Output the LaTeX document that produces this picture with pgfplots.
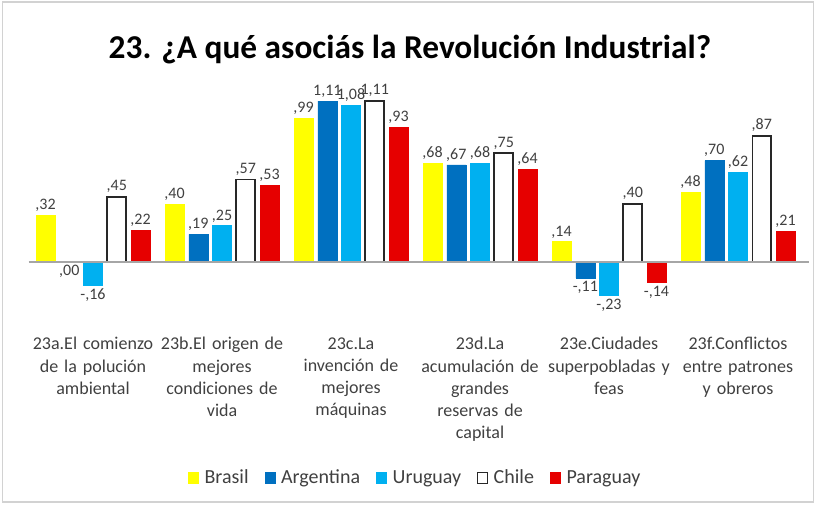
\documentclass[border=0pt]{standalone}
\usepackage{pgfplots}
\pgfplotsset{compat=1.18}
\usepackage{fontspec}
\setmainfont{Carlito}
\definecolor{cBra}{RGB}{255,255,0}
\definecolor{cArg}{RGB}{0,112,192}
\definecolor{cUru}{RGB}{0,176,240}
\definecolor{cChi}{RGB}{40,40,40}
\definecolor{cPar}{RGB}{230,0,0}
\definecolor{lab}{RGB}{64,64,64}
\begin{document}
\begin{tikzpicture}
\path[use as bounding box] (-21.4pt,-138pt) rectangle ++(612pt,378pt);
\draw[gray!35, line width=0.8pt] (-19.5pt,-136.5pt) rectangle ++(608.5pt,375pt);
\begin{axis}[
  scale only axis, width=580.5pt, height=174pt,
  xmin=-0.5, xmax=5.5, ymin=-0.4, ymax=1.2,
  axis line style={draw=none}, major tick length=0pt,
  ytick=\empty, xtick={0,1,2,3,4,5},
  xticklabels={{23a.El comienzo\\de la polución\\ambiental},
               {23b.El origen de\\mejores\\condiciones de\\vida},
               {23c.La\\invención de\\mejores\\máquinas},
               {23d.La\\acumulación de\\grandes\\reservas de\\capital},
               {23e.Ciudades\\superpobladas y\\feas},
               {23f.Conflictos\\entre patrones\\y obreros}},
  xticklabel style={align=center, text width=97pt, anchor=north, yshift=-9.5pt,
    font=\fontsize{13.5}{16.7}\selectfont, text=lab},
  ybar, bar width=0.147,
  point meta=explicit symbolic,
  nodes near coords,
  nodes near coords style={font=\fontsize{12}{14}\selectfont, text=lab, inner sep=2.5pt},
  every axis plot/.append style={coordinate style/.condition={y<0.001}{anchor=north}},
  legend columns=5,
  legend style={at={(0.5,-0.681)}, anchor=center, draw=none, fill=none,
    font=\fontsize{15}{17}\selectfont, text=lab,
    /tikz/every even column/.style={column sep=10pt}},
  legend image code/.code={\draw[#1, line width=0.8pt] (0pt,-3.8pt) rectangle (7.5pt,3.8pt); \path[draw=none, fill=none] (10pt,0pt) circle (0pt);},
  clip=false,
]
\addplot[bar shift=-0.368, fill=cBra, draw=cBra] coordinates {
 (0,0.32) [,32] (1,0.40) [,40] (2,0.99) [,99] (3,0.68) [,68] (4,0.14) [,14] (5,0.48) [,48]};
\addlegendentry{Brasil}
\addplot[bar shift=-0.184, fill=cArg, draw=cArg] coordinates {
 (0,0.00) [,00] (1,0.19) [,19] (2,1.11) [1,11] (3,0.67) [,67] (4,-0.11) [-,11] (5,0.70) [,70]};
\addlegendentry{Argentina}
\addplot[bar shift=0, fill=cUru, draw=cUru] coordinates {
 (0,-0.16) [-,16] (1,0.25) [,25] (2,1.08) [1,08] (3,0.68) [,68] (4,-0.23) [-,23] (5,0.62) [,62]};
\addlegendentry{Uruguay}
\addplot[bar shift=0.184, fill=white, draw=cChi, line width=1.2pt] coordinates {
 (0,0.45) [,45] (1,0.57) [,57] (2,1.11) [1,11] (3,0.75) [,75] (4,0.40) [,40] (5,0.87) [,87]};
\addlegendentry{Chile}
\addplot[bar shift=0.368, fill=cPar, draw=cPar] coordinates {
 (0,0.22) [,22] (1,0.53) [,53] (2,0.93) [,93] (3,0.64) [,64] (4,-0.14) [-,14] (5,0.21) [,21]};
\addlegendentry{Paraguay}
\draw[gray!70, line width=1.1pt] (axis cs:-0.5,0) -- (axis cs:5.55,0);
\end{axis}
\node[font=\bfseries\fontsize{25}{30}\selectfont, text=black] at (286pt,203pt) {23. ¿A qué asociás la Revolución Industrial?};
\end{tikzpicture}
\end{document}
